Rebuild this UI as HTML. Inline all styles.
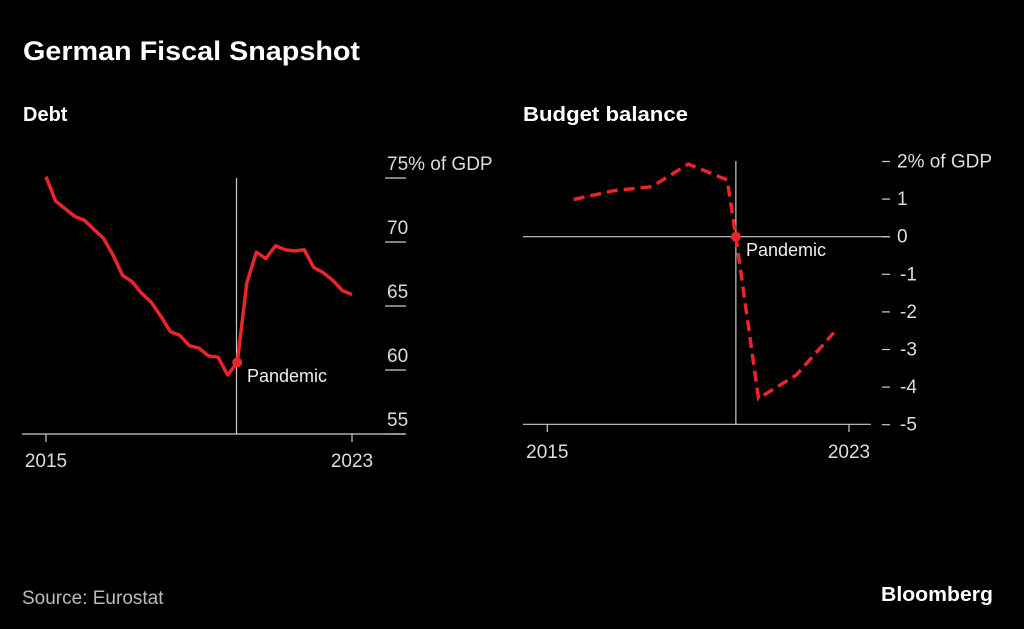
<!DOCTYPE html>
<html><head><meta charset="utf-8"><style>
html,body{margin:0;padding:0;background:#000;width:1024px;height:629px;overflow:hidden}
svg{display:block;font-family:"Liberation Sans",sans-serif}
</style></head><body>
<svg id="c" width="1024" height="629" viewBox="0 0 1024 629">
<text x="23" y="60" fill="#fff" font-size="27" font-weight="bold" textLength="337" lengthAdjust="spacingAndGlyphs">German Fiscal Snapshot</text>
<text x="23" y="121" fill="#fff" font-size="20" font-weight="bold">Debt</text>
<text x="523" y="121" fill="#fff" font-size="20" font-weight="bold" textLength="165" lengthAdjust="spacingAndGlyphs">Budget balance</text>
<text x="22" y="604" fill="#bbb" font-size="19">Source: Eurostat</text>
<text x="993" y="601" fill="#fff" font-size="20" font-weight="bold" text-anchor="end" textLength="112" lengthAdjust="spacingAndGlyphs">Bloomberg</text>
<g id="left"></g><g id="right"></g>
</svg>
<script>
// Debt data (quarterly, % of GDP)
const debtStart = 2015;
const debtValues = [75.1,73.2,72.6,72.0,71.7,71.0,70.3,69.0,67.4,66.9,66.0,65.3,64.2,63.0,62.7,61.9,61.7,61.1,61.0,59.6,60.6,66.8,69.2,68.7,69.7,69.4,69.3,69.4,68.0,67.6,67.0,66.2,65.9];
const debtTicks = [75,70,65,60,55];
const debtTickLabels = ["75% of GDP","70","65","60","55"];
const debtPandemicIndex = 20;
// Budget balance data
const budgetYears = [2015.7,2016.75,2017.77,2018.74,2019.77,2020.0,2020.6,2021.6,2022.6];
const budgetValues = [0.99,1.22,1.33,1.93,1.51,0,-4.3,-3.68,-2.55];
const budgetTicks = [2,1,0,-1,-2,-3,-4,-5];
const budgetTickLabels = ["2% of GDP","1","0","-1","-2","-3","-4","-5"];
const budgetPandemicIndex = 5;
const xTickYears = [2015,2023];

const NS="http://www.w3.org/2000/svg";
function mk(parent,tag,attrs){const e=document.createElementNS(NS,tag);for(const k in attrs)e.setAttribute(k,attrs[k]);parent.appendChild(e);return e;}

// Left panel
const L=document.getElementById('left');
const lx=t=>46+(t-2015)*(352-46)/8;
const ly=v=>178+(75-v)*12.8;
debtTicks.forEach((v,i)=>{
  const ln=mk(L,'line',{x1:385,x2:406,y1:ly(v),y2:ly(v),stroke:'#ccc','stroke-width':1.2});
  
  
  const t=mk(L,'text',{x:387,y:ly(v)-8,fill:'#ddd','font-size':19});
  t.textContent=debtTickLabels[i];
  
  
});
const lax=mk(L,'line',{x1:22,x2:405,y1:434,y2:434,stroke:'#ccc','stroke-width':1.2});


xTickYears.forEach(yr=>{
  const tk=mk(L,'line',{x1:lx(yr),x2:lx(yr),y1:434,y2:442,stroke:'#ccc','stroke-width':1.2});
  
  
  const t=mk(L,'text',{x:lx(yr),y:467,fill:'#ddd','font-size':19,'text-anchor':'middle'});
  t.textContent=String(yr);
  
  
});
const pvl=mk(L,'line',{x1:236.5,x2:236.5,y1:178,y2:434,stroke:'#ccc','stroke-width':1.2});


const dpts=debtValues.map((v,i)=>lx(debtStart+i/4).toFixed(1)+','+ly(v).toFixed(1)).join(' ');
const dl=mk(L,'polyline',{points:dpts,fill:'none',stroke:'#e8262a','stroke-width':3.5,'stroke-linejoin':'round'});


const dd=mk(L,'circle',{cx:lx(debtStart+debtPandemicIndex/4),cy:ly(debtValues[debtPandemicIndex]),r:5,fill:'#e8262a'});


const dlab=mk(L,'text',{x:247,y:382,fill:'#eee','font-size':18});
dlab.textContent='Pandemic';



// Right panel
const R=document.getElementById('right');
const rx=t=>547.3+(t-2015)*(849-547.3)/8;
const ry=v=>236.7-v*37.6;
budgetTicks.forEach((v,i)=>{
  const ln=mk(R,'line',{x1:882,x2:890,y1:ry(v),y2:ry(v),stroke:'#ccc','stroke-width':1.2});
  
  
  const t=mk(R,'text',{x:v<0?900:897,y:ry(v)+6,fill:'#ddd','font-size':19});
  t.textContent=budgetTickLabels[i];
  
  
});
const zl=mk(R,'line',{x1:523,x2:890,y1:ry(0),y2:ry(0),stroke:'#ccc','stroke-width':1.2});


const rax=mk(R,'line',{x1:523,x2:871,y1:424.3,y2:424.3,stroke:'#ccc','stroke-width':1.2});


xTickYears.forEach(yr=>{
  const tk=mk(R,'line',{x1:rx(yr),x2:rx(yr),y1:424,y2:432,stroke:'#ccc','stroke-width':1.2});
  
  
  const t=mk(R,'text',{x:rx(yr),y:458,fill:'#ddd','font-size':19,'text-anchor':'middle'});
  t.textContent=String(yr);
  
  
});
const rvl=mk(R,'line',{x1:rx(budgetYears[budgetPandemicIndex]),x2:rx(budgetYears[budgetPandemicIndex]),y1:161,y2:424,stroke:'#ccc','stroke-width':1.2});


const bpts=budgetValues.map((v,i)=>rx(budgetYears[i]).toFixed(1)+','+ry(v).toFixed(1)).join(' ');
const bl=mk(R,'polyline',{points:bpts,fill:'none',stroke:'#e8262a','stroke-width':3.5,'stroke-dasharray':'11 6'});


const bd=mk(R,'circle',{cx:rx(budgetYears[budgetPandemicIndex]),cy:ry(budgetValues[budgetPandemicIndex]),r:5,fill:'#e8262a'});


const blab=mk(R,'text',{x:746,y:256,fill:'#eee','font-size':18});
blab.textContent='Pandemic';


</script>
</body></html>
